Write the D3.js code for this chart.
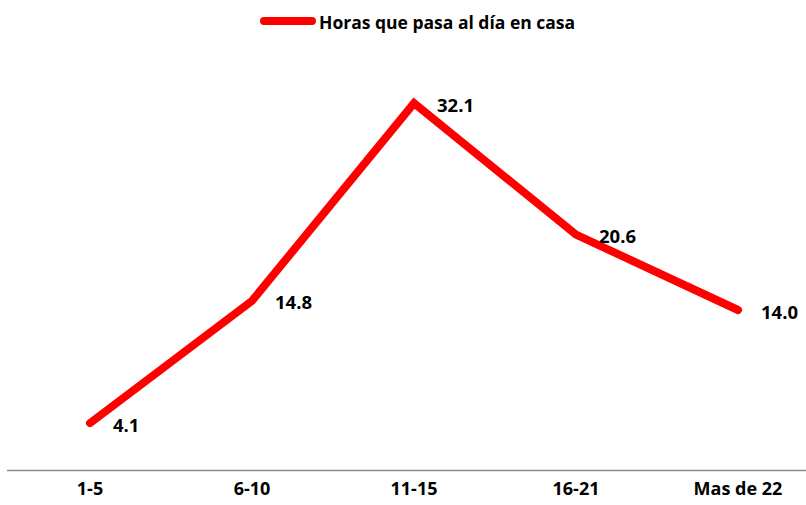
<!DOCTYPE html>
<html>
<head>
<meta charset="utf-8">
<script src="https://cdn.jsdelivr.net/npm/d3@7"></script>
<style>
  html, body { margin: 0; padding: 0; background: #fff; }
  svg text { font-family: "Open Sans", Lato, sans-serif; font-weight: bold; fill: #000; }
</style>
</head>
<body>
<svg id="chart" width="806" height="505"></svg>
<script>
const categories = ["1-5", "6-10", "11-15", "16-21", "Mas de 22"];
const values = [4.1, 14.8, 32.1, 20.6, 14.0];
const seriesName = "Horas que pasa al día en casa";

const svg = d3.select("#chart");
const W = 806, H = 505;

const x = d3.scaleBand().domain(categories).range([9, 819]).padding(0);
const y = d3.scaleLinear().domain([0, 35]).range([470, 70]);

// horizontal axis line
svg.append("line")
  .attr("x1", 7).attr("x2", W)
  .attr("y1", y(0) + 0.5).attr("y2", y(0) + 0.5)
  .attr("stroke", "#8c8c8c").attr("stroke-width", 1.5);

// category labels
svg.append("g").selectAll("text").data(categories).join("text")
  .attr("x", d => x(d) + x.bandwidth() / 2)
  .attr("y", 495)
  .attr("text-anchor", "middle")
  .attr("font-size", 18)
  .text(d => d);

const pts = categories.map((c, i) => ({ c, v: values[i] }));

const line = d3.line()
  .x(d => x(d.c) + x.bandwidth() / 2)
  .y(d => y(d.v));

svg.append("path")
  .datum(pts)
  .attr("d", line)
  .attr("fill", "none")
  .attr("stroke", "#ff0000")
  .attr("stroke-width", 8)
  .attr("stroke-linejoin", "miter")
  .attr("stroke-linecap", "round");

// value labels
svg.append("g").selectAll("text").data(pts).join("text")
  .attr("x", d => x(d.c) + x.bandwidth() / 2 + 23)
  .attr("y", d => y(d.v) + 1)
  .attr("dominant-baseline", "central")
  .attr("font-size", 18.5)
  .text(d => d.v.toFixed(1));

// legend
const lg = svg.append("g");
lg.append("line")
  .attr("x1", 264).attr("x2", 312)
  .attr("y1", 21).attr("y2", 21)
  .attr("stroke", "#ff0000").attr("stroke-width", 8)
  .attr("stroke-linecap", "round");
lg.append("text")
  .attr("x", 319).attr("y", 22)
  .attr("dominant-baseline", "central")
  .attr("font-size", 17.5)
  .text(seriesName);
</script>
</body>
</html>
